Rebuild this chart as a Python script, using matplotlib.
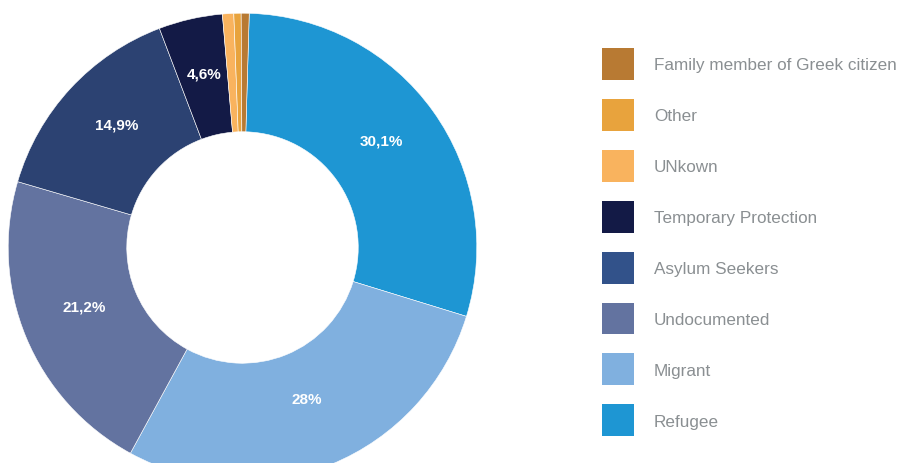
import matplotlib.pyplot as plt
import numpy as np
from matplotlib.patches import Patch

categories = ["Refugee", "Migrant", "Undocumented", "Asylum Seekers",
              "Temporary Protection", "UNkown", "Other", "Family member of Greek citizen"]
values = [29.3, 28.2, 21.6, 14.7, 4.4, 0.78, 0.5, 0.55]
pct_labels = ["30,1%", "28%", "21,2%", "14,9%", "4,6%", "", "", ""]
colors = ["#1E96D3", "#80B0DF", "#6373A0", "#2C4272", "#131A46", "#F9B35E", "#E8A33D", "#B87A33"]
legend_colors = ["#1E96D3", "#80B0DF", "#6373A0", "#32528A", "#131A46", "#F9B35E", "#E8A33D", "#B87A33"]

W, H = 897, 464
fig = plt.figure(figsize=(W / 100, H / 100), dpi=100)
plt.rcParams['font.family'] = ['Liberation Sans', 'DejaVu Sans']

cx, cy, R = 242.5, 464 - 248.5, 234.3
ax = fig.add_axes([(cx - R) / W, (cy - R) / H, 2 * R / W, 2 * R / H])

wedges, _ = ax.pie(values, colors=colors, startangle=88.35, counterclock=False, radius=1,
                   wedgeprops=dict(width=0.506, edgecolor='white', linewidth=0.4))
ax.set_xlim(-1, 1)
ax.set_ylim(-1, 1)
ax.set_aspect('equal')
ax.axis('off')
for w in wedges:
    w.set_clip_on(False)

for w, lab in zip(wedges, pct_labels):
    if not lab:
        continue
    ang = np.deg2rad((w.theta1 + w.theta2) / 2)
    r = 0.73
    ax.text(r * np.cos(ang), r * np.sin(ang), lab, ha='center', va='bottom',
            color='white', fontsize=11, fontweight='bold')

handles = [Patch(facecolor=c, edgecolor='none') for c in legend_colors][::-1]
labels = categories[::-1]
leg = fig.legend(handles, labels, loc='upper left',
                 bbox_to_anchor=(602 / W, 1 - 49 / H), frameon=False,
                 borderpad=0, borderaxespad=0, fontsize=12.3,
                 handlelength=1.87, handleheight=2.5, labelspacing=1.11,
                 handletextpad=1.17)
for t in leg.get_texts():
    t.set_color('#8A8F92')

fig.savefig('out.png', dpi=100)
